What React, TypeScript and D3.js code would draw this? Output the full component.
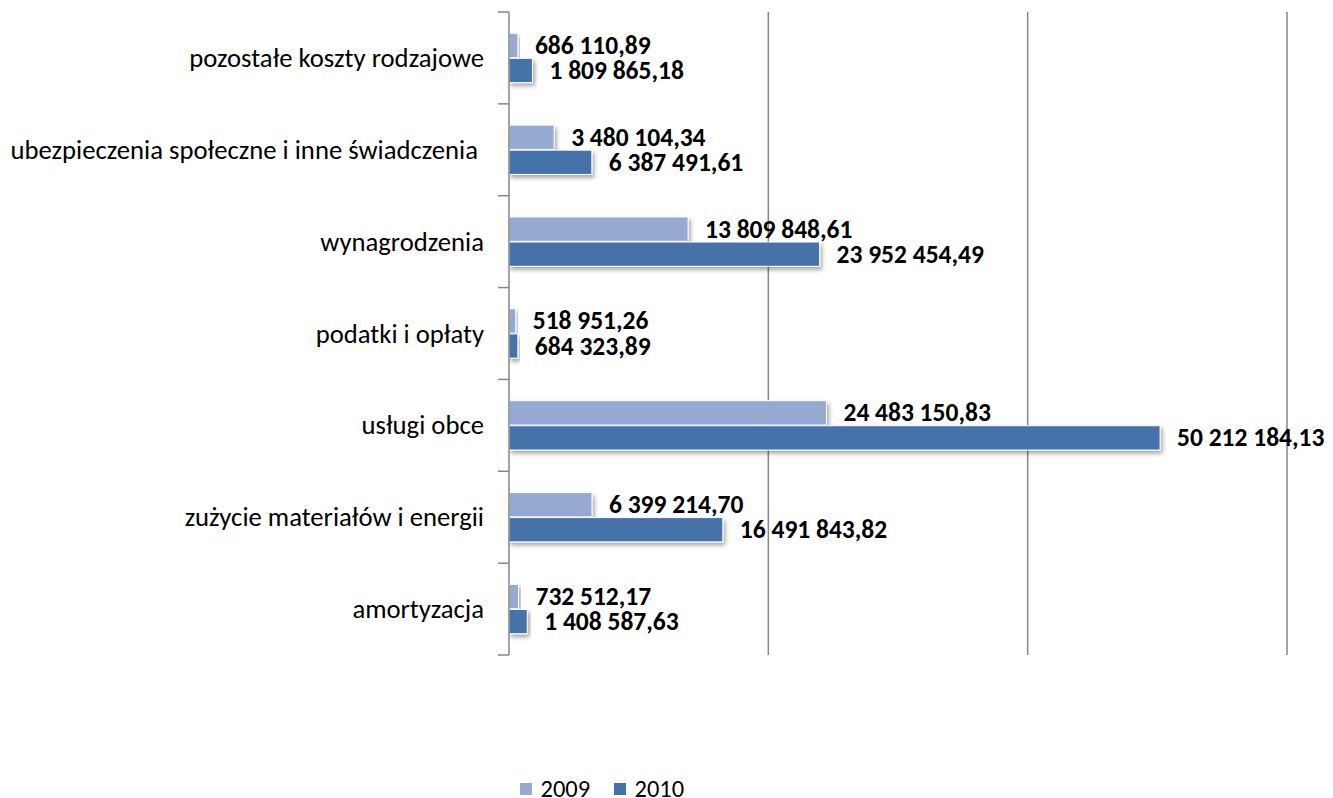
import React from "react";
import * as d3 from "d3";

const categories = [
  "pozostałe koszty rodzajowe",
  "ubezpieczenia społeczne i inne świadczenia ",
  "wynagrodzenia",
  "podatki i opłaty",
  "usługi obce",
  "zużycie materiałów i energii",
  "amortyzacja",
];
const values2009 = [686110.89, 3480104.34, 13809848.61, 518951.26, 24483150.83, 6399214.7, 732512.17];
const values2010 = [1809865.18, 6387491.61, 23952454.49, 684323.89, 50212184.13, 16491843.82, 1408587.63];
const seriesNames = ["2009", "2010"];
const gridTicks = [0, 20000000, 40000000, 60000000];

const colors = ["#95A9D1", "#4572A8"];
const font = "Calibri, Carlito, 'Open Sans', sans-serif";

function fmt(v: number): string {
  const [i, d] = v.toFixed(2).split(".");
  return i.replace(/\B(?=(\d{3})+(?!\d))/g, " ") + "," + d;
}

export default function App() {
  const W = 1333, H = 798;
  const x = d3.scaleLinear().domain([0, 60000000]).range([509, 1287]);
  const y = d3.scaleBand<string>().domain(categories).range([12, 655]).paddingInner(0).paddingOuter(0);
  const inner = d3.scaleBand<string>().domain(seriesNames).range([0, y.bandwidth()]).paddingInner(0.03).paddingOuter(0.85);
  const series = [values2009, values2010];
  const boundaries = d3.range(categories.length + 1).map((i) => 12 + i * y.bandwidth());
  return (
    <svg width={W} height={H} style={{ position: "absolute", left: 0, top: 0, background: "#fff" }}>
      <defs>
        <filter id="sh" x="-10%" y="-30%" width="130%" height="180%">
          <feDropShadow dx="2" dy="3" stdDeviation="2" floodColor="#000" floodOpacity="0.35" />
        </filter>
      </defs>
      {gridTicks.slice(1).map((t) => (
        <line key={t} x1={x(t)} x2={x(t)} y1={12} y2={655} stroke="#868686" strokeWidth={1.5} />
      ))}
      {categories.map((c, ci) =>
        series.map((s, si) => (
          <rect
            key={c + si}
            x={x(0)}
            y={y(c)! + inner(seriesNames[si])!}
            width={x(s[ci]) - x(0)}
            height={inner.bandwidth()}
            fill={colors[si]}
            stroke="#fff"
            strokeWidth={1}
            filter="url(#sh)"
          />
        ))
      )}
      <line x1={509} x2={509} y1={12} y2={655} stroke="#868686" strokeWidth={1.5} />
      {boundaries.map((b, i) => (
        <line key={i} x1={498} x2={509} y1={b} y2={b} stroke="#868686" strokeWidth={1.5} />
      ))}
      {categories.map((c) => (
        <text key={c} x={484} y={y(c)! + y.bandwidth() / 2} textAnchor="end" dominantBaseline="central"
          fontFamily={font} fontSize={26.7} fill="#000" style={{ whiteSpace: "pre" }}>
          {c}
        </text>
      ))}
      {categories.map((c, ci) =>
        series.map((s, si) => (
          <text key={"l" + c + si} x={x(s[ci]) + 17} y={y(c)! + inner(seriesNames[si])! + inner.bandwidth() / 2}
            dominantBaseline="central" fontFamily={font} fontSize={25.5} fontWeight="bold" fill="#000">
            {fmt(s[ci])}
          </text>
        ))
      )}
      {seriesNames.map((n, i) => (
        <g key={n} transform={`translate(${520 + i * 94}, 0)`}>
          <rect x={0} y={783} width={12} height={12} fill={colors[i]} />
          <text x={20.5} y={796.5} fontFamily={font} fontSize={24.5} fill="#000">{n}</text>
        </g>
      ))}
    </svg>
  );
}
